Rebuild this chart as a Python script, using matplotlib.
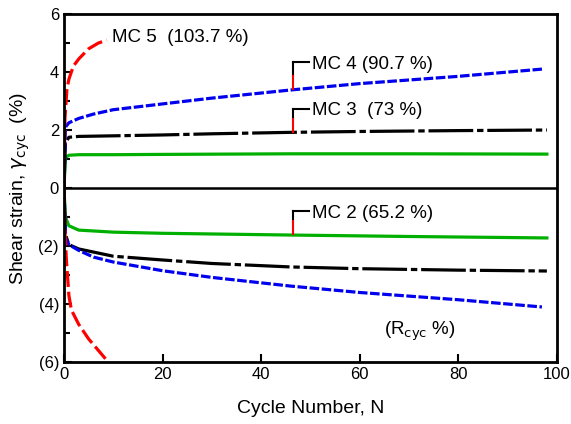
import matplotlib
matplotlib.use("Agg")
import matplotlib.pyplot as plt
from matplotlib.ticker import MultipleLocator, FixedLocator

plt.rcParams['font.family'] = ['Liberation Sans', 'DejaVu Sans']

# upper (positive) and lower (negative) branches of each test
mc5_n_up = [0, 0.2, 0.6, 1, 1.9, 3, 5, 7, 8.7]
mc5_up = [0, 2.4, 3.4, 3.75, 4.2, 4.45, 4.8, 5.0, 5.1]
mc5_n_lo = [0, 0.2, 0.5, 1, 1.5, 3, 5, 7, 9]
mc5_lo = [0, -1.5, -2.5, -3.7, -4.2, -4.7, -5.2, -5.6, -6.0]

mc4_n = [0, 0.3, 1, 3, 6, 10, 20, 30, 46, 60, 80, 97]
mc4_up = [0, 2.1, 2.25, 2.4, 2.55, 2.7, 2.9, 3.1, 3.38, 3.6, 3.85, 4.1]
mc4_lo = [0, -1.7, -1.95, -2.15, -2.38, -2.55, -2.85, -3.08, -3.38, -3.6, -3.85, -4.1]

mc3_n = [0, 0.3, 1, 3, 10, 20, 30, 46, 60, 80, 98]
mc3_up = [0, 1.55, 1.75, 1.78, 1.8, 1.83, 1.87, 1.92, 1.95, 1.98, 2.0]
mc3_lo = [0, -1.6, -1.95, -2.1, -2.35, -2.48, -2.6, -2.72, -2.78, -2.83, -2.86]

mc2_n = [0, 0.3, 1, 3, 10, 20, 46, 70, 98]
mc2_up = [0, 1.05, 1.13, 1.15, 1.15, 1.16, 1.18, 1.18, 1.17]
mc2_lo = [0, -1.0, -1.3, -1.45, -1.52, -1.56, -1.62, -1.67, -1.72]

labels = ['MC 5  (103.7 %)', 'MC 4 (90.7 %)', 'MC 3  (73 %)', 'MC 2 (65.2 %)']
label_xy = [(9.8, 5.2), (50.3, 4.25), (50.3, 2.66), (50.3, -0.87)]
pointer_y = [None, 3.4, 1.93, -1.6]

fig = plt.figure(figsize=(5.71, 4.24), dpi=100)
ax = fig.add_axes([0.112, 0.146, 0.863, 0.821])

ax.axhline(0, color='black', lw=1.8, zorder=1)

ax.plot(mc2_n, mc2_up, color='#00b000', lw=2.3)
ax.plot(mc2_n, mc2_lo, color='#00b000', lw=2.3)
ax.plot(mc3_n, mc3_up, color='black', lw=2.3, dashes=(14, 1.2, 2, 1.2))
ax.plot(mc3_n, mc3_lo, color='black', lw=2.3, dashes=(14, 1.2, 2, 1.2))
ax.plot(mc4_n, mc4_up, color='#0000ee', lw=2.3, dashes=(3, 0.8))
ax.plot(mc4_n, mc4_lo, color='#0000ee', lw=2.3, dashes=(3, 0.8))
ax.plot(mc5_n_up, mc5_up, color='#ff0000', lw=2.3, dashes=(5, 1.5))
ax.plot(mc5_n_lo, mc5_lo, color='#ff0000', lw=2.3, dashes=(5, 1.5))

for lab, (tx, ty), py in zip(labels, label_xy, pointer_y):
    ax.text(tx, ty, lab, fontsize=13.5, ha='left', va='center')
    if py is not None:
        ax.plot([46.4, 49.8], [ty + 0.08, ty + 0.08], color='black', lw=1.5)
        ax.plot([46.4, 46.4], [ty + 0.08, py + 0.45], color='black', lw=1.5)
        ax.plot([46.4, 46.4], [py + 0.45, py], color='red', lw=1.5)

ax.text(65, -4.95, r'(R$_{\rm cyc}$ %)', fontsize=13.5, ha='left', va='center')

ax.set_xlim(0, 100)
ax.set_ylim(-6, 6)
ax.xaxis.set_major_locator(MultipleLocator(20))
ax.yaxis.set_major_locator(FixedLocator([-6, -4, -2, 0, 2, 4, 6]))
ax.yaxis.set_minor_locator(FixedLocator([-5, -3, -1, 1, 3, 5]))
ax.set_yticklabels(['(6)', '(4)', '(2)', '0', '2', '4', '6'])
ax.tick_params(direction='in', length=6, width=1.5, labelsize=12)
ax.tick_params(which='minor', direction='in', length=4, width=1.5)
for s in ax.spines.values():
    s.set_linewidth(2)

ax.set_xlabel('Cycle Number, N', fontsize=14, labelpad=13)
ax.set_ylabel(r'Shear strain, $\gamma_{\rm cyc}$  (%)', fontsize=14, labelpad=5)

fig.savefig('out.png', dpi=100)
